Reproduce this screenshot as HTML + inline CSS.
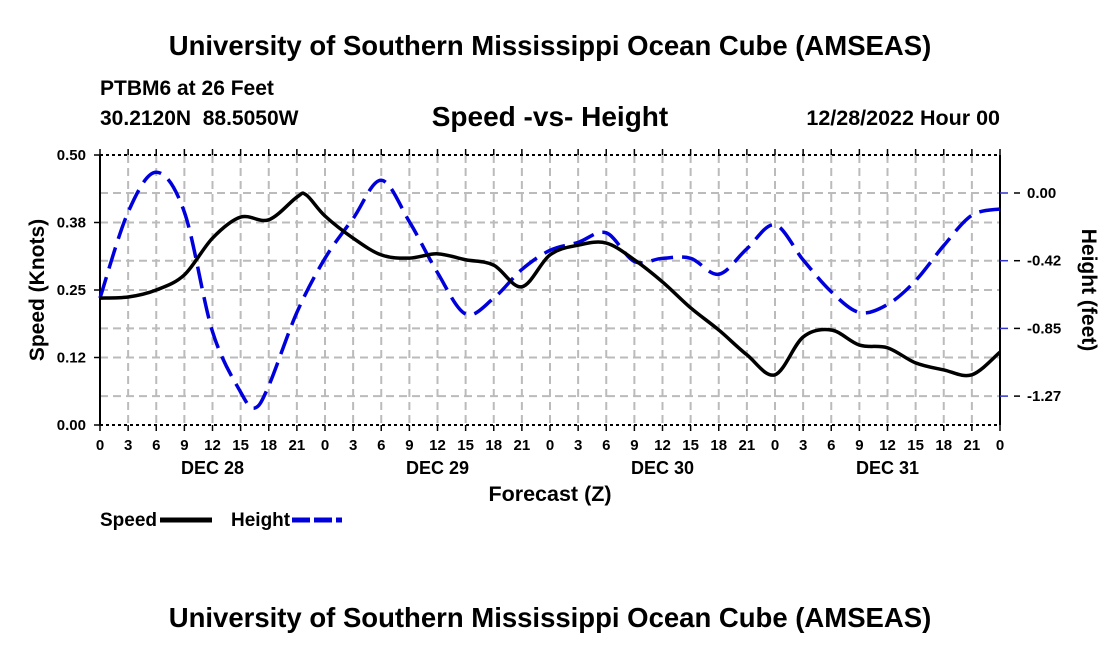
<!DOCTYPE html>
<html><head><meta charset="utf-8"><style>
body{margin:0;background:#fff;}
svg text{font-family:"Liberation Sans",Arial,sans-serif;font-weight:bold;fill:#000;}
</style></head><body>
<svg width="1100" height="650" viewBox="0 0 1100 650">
<text x="550" y="55" font-size="27.5" text-anchor="middle">University of Southern Mississippi Ocean Cube (AMSEAS)</text>
<text x="100" y="95" font-size="21">PTBM6 at 26 Feet</text>
<text x="100" y="125" font-size="21">30.2120N&#160;&#160;88.5050W</text>
<text x="550" y="126" font-size="28" text-anchor="middle">Speed -vs- Height</text>
<text x="1000" y="125" font-size="21.5" text-anchor="end">12/28/2022 Hour 00</text>
<g id="grid"></g>
<g id="axes"></g>
<g id="series"></g>
<text transform="translate(44,290) rotate(-90)" font-size="21" text-anchor="middle">Speed (Knots)</text>
<text transform="translate(1082,290) rotate(90)" font-size="21" text-anchor="middle">Height (feet)</text>
<text x="550" y="501" font-size="21.5" text-anchor="middle">Forecast (Z)</text>
<g>
<text x="100" y="526" font-size="19">Speed</text>
<line x1="160" y1="520" x2="212" y2="520" stroke="#000" stroke-width="5"/>
<text x="231" y="526" font-size="19">Height</text>
<line x1="292" y1="520" x2="342" y2="520" stroke="#0000dd" stroke-width="5" stroke-dasharray="18,4"/>
</g>
<text x="550" y="627" font-size="27.5" text-anchor="middle">University of Southern Mississippi Ocean Cube (AMSEAS)</text>
</svg>
<script>
const speedHours=[0,3,6,9,12,15,18,21,22,24,27,30,33,36,39,42,45,48,51,54,57,60,63,66,69,72,75,78,81,84,87,90,93,96];
const speedValues=[0.235,0.237,0.25,0.278,0.346,0.385,0.38,0.422,0.426,0.387,0.346,0.315,0.309,0.317,0.306,0.296,0.256,0.315,0.333,0.337,0.306,0.265,0.217,0.176,0.13,0.093,0.163,0.176,0.148,0.143,0.115,0.102,0.093,0.135];
const heightHours=[0,3,6,9,12,15,16.5,18,21,24,27,30,33,36,39,42,45,48,51,54,57,60,63,66,69,72,75,78,81,84,87,90,93,96];
const heightValues=[-0.66,-0.12,0.13,-0.12,-0.87,-1.25,-1.35,-1.21,-0.75,-0.41,-0.16,0.08,-0.18,-0.5,-0.76,-0.66,-0.48,-0.36,-0.31,-0.25,-0.43,-0.41,-0.41,-0.51,-0.35,-0.2,-0.42,-0.62,-0.75,-0.7,-0.55,-0.33,-0.14,-0.1];
const xTickLabels=["0","3","6","9","12","15","18","21","0","3","6","9","12","15","18","21","0","3","6","9","12","15","18","21","0","3","6","9","12","15","18","21","0"];
const dayLabels=["DEC 28","DEC 29","DEC 30","DEC 31"];
const leftTicks=[0,0.125,0.25,0.375,0.5];
const leftTickLabels=["0.00","0.12","0.25","0.38","0.50"];
const rightTicks=[0,-0.425,-0.85,-1.275];
const rightTickLabels=["0.00","-0.42","-0.85","-1.27"];

const X0=100,X1=1000,Y0=425,Y1=155;
const NS="http://www.w3.org/2000/svg";
const xs=h=>X0+h*(X1-X0)/96;
const ys=v=>Y0-v*(Y0-Y1)/0.5;
const yh=f=>193-f*159.3;
function mk(tag,attrs,parent){const e=document.createElementNS(NS,tag);for(const k in attrs)e.setAttribute(k,attrs[k]);parent.appendChild(e);return e;}
const grid=document.getElementById('grid'),axes=document.getElementById('axes'),series=document.getElementById('series');

for(let i=1;i<xTickLabels.length-1;i++){
  const l=mk('line',{x1:xs(i*3),x2:xs(i*3),y1:Y1,y2:Y0,stroke:'#bbb','stroke-width':2,'stroke-dasharray':'8,5'},grid);
  
  
}
leftTicks.slice(1,-1).forEach(v=>{
  const l=mk('line',{x1:X0,x2:X1,y1:ys(v),y2:ys(v),stroke:'#bbb','stroke-width':2,'stroke-dasharray':'8,5'},grid);
  
  
});
rightTicks.forEach(v=>{
  const l=mk('line',{x1:X0,x2:X1,y1:yh(v),y2:yh(v),stroke:'#bbb','stroke-width':2,'stroke-dasharray':'8,5'},grid);
  
  
});
mk('line',{x1:X0,x2:X0,y1:Y1,y2:Y0,stroke:'#000','stroke-width':2},axes);
mk('line',{x1:X1,x2:X1,y1:Y1,y2:Y0,stroke:'#000','stroke-width':2},axes);
mk('line',{x1:X0,x2:X1,y1:Y0,y2:Y0,stroke:'#000','stroke-width':2,'stroke-dasharray':'3,3'},axes);
mk('line',{x1:X0,x2:X1,y1:Y1,y2:Y1,stroke:'#000','stroke-width':2,'stroke-dasharray':'3,3'},axes);
xTickLabels.forEach((t,i)=>{
  const x=xs(i*3);
  mk('line',{x1:x,x2:x,y1:Y0,y2:Y0+6,stroke:'#000','stroke-width':1.5},axes);
  mk('line',{x1:x,x2:x,y1:Y1,y2:Y1-6,stroke:'#000','stroke-width':1.5},axes);
  const tx=mk('text',{x:x,y:Y0+25,'font-size':15,'text-anchor':'middle'},axes);
  tx.textContent=t;
  
  
});
dayLabels.forEach((d,i)=>{
  const tx=mk('text',{x:xs(12+i*24),y:Y0+49,'font-size':18,'text-anchor':'middle'},axes);
  tx.textContent=d;
  
  
});
leftTicks.forEach((v,i)=>{
  const y=ys(v);
  mk('line',{x1:X0-6,x2:X0,y1:y,y2:y,stroke:'#000','stroke-width':1.5},axes);
  const tx=mk('text',{x:X0-14,y:y+5,'font-size':15,'text-anchor':'end'},axes);
  tx.textContent=leftTickLabels[i];
  
  
});
rightTicks.forEach((v,i)=>{
  const y=yh(v);
  mk('line',{x1:X1,x2:X1+8,y1:y,y2:y,stroke:'#3333cc','stroke-width':1.5},axes);
  mk('line',{x1:X1+14,x2:X1+20,y1:y,y2:y,stroke:'#000','stroke-width':1.5},axes);
  const tx=mk('text',{x:X1+27,y:y+5,'font-size':15},axes);
  tx.textContent=rightTickLabels[i];
  
  
});
function smooth(pts){
  let d=`M${pts[0][0]},${pts[0][1]}`;
  for(let i=0;i<pts.length-1;i++){
    const p0=pts[Math.max(i-1,0)],p1=pts[i],p2=pts[i+1],p3=pts[Math.min(i+2,pts.length-1)];
    const c1=[p1[0]+(p2[0]-p0[0])/6,p1[1]+(p2[1]-p0[1])/6];
    const c2=[p2[0]-(p3[0]-p1[0])/6,p2[1]-(p3[1]-p1[1])/6];
    d+=` C${c1[0]},${c1[1]} ${c2[0]},${c2[1]} ${p2[0]},${p2[1]}`;
  }
  return d;
}
const hp=mk('path',{d:smooth(heightHours.map((h,i)=>[xs(h),yh(heightValues[i])])),fill:'none',stroke:'#0000dd','stroke-width':3.5,'stroke-dasharray':'22,9'},series);


const sp=mk('path',{d:smooth(speedHours.map((h,i)=>[xs(h),ys(speedValues[i])])),fill:'none',stroke:'#000','stroke-width':3.5},series);


</script>
</body></html>
